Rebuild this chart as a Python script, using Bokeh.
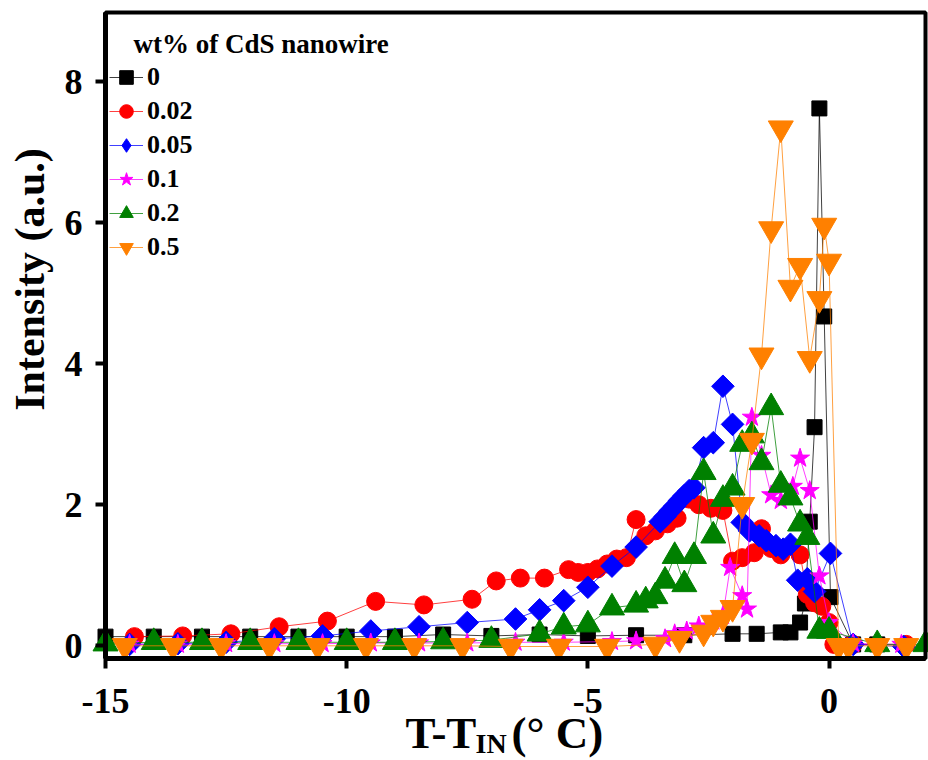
import math
from bokeh.plotting import figure
from bokeh.models import (Range1d, FixedTicker, Label, Legend, LegendItem, BoxAnnotation)
from bokeh.embed import file_html
from bokeh.resources import INLINE

FONT = "Liberation Serif"

# ---------------- data ----------------
labels = ["0", "0.02", "0.05", "0.1", "0.2", "0.5"]

x_0 = [-15, -14, -13, -12, -11, -10, -9, -8, -7, -6, -5, -4, -3, -2, -1.5, -1, -0.8,
       -0.6, -0.5, -0.4, -0.3, -0.2, -0.1, 0.03, 0.5, 1.0]
y_0 = [0.13, 0.13, 0.13, 0.13, 0.13, 0.13, 0.13, 0.16, 0.14, 0.16, 0.14, 0.15, 0.15,
       0.17, 0.17, 0.19, 0.19, 0.33, 0.6, 1.76, 3.1, 7.62, 4.67, 0.69, 0.02, 0.02]

x_002 = [-14.4, -13.4, -12.4, -11.4, -10.4, -9.4, -8.4, -7.4, -6.9, -6.4, -5.9, -5.4,
         -5.2, -5.0, -4.8, -4.6, -4.4, -4.2, -4.0, -3.8, -3.6, -3.35, -3.15, -2.9, -2.7,
         -2.45, -2.2, -2.0, -1.8, -1.55, -1.4, -1.2, -1.0, -0.6, -0.45, -0.3, -0.15, 0.0,
         0.1, 0.5, 1.6]
y_002 = [0.13, 0.14, 0.17, 0.27, 0.35, 0.63, 0.58, 0.66, 0.92, 0.96, 0.96, 1.08, 1.04,
         1.04, 1.09, 1.16, 1.23, 1.25, 1.79, 1.56, 1.63, 1.73, 1.81, 2.08, 2.0, 1.95,
         1.92, 1.2, 1.25, 1.32, 1.66, 1.38, 1.29, 1.29, 0.73, 0.61, 0.56, 0.33, 0.02,
         0.02, 0.02]

x_005 = [-14.5, -13.5, -12.5, -11.5, -10.5, -9.5, -8.5, -7.5, -6.5, -6.0, -5.5, -5.0,
         -4.5, -4.0, -3.5, -3.4, -3.3, -3.2, -3.1, -3.0, -2.9, -2.8, -2.6, -2.4, -2.2,
         -2.0, -1.8, -1.65, -1.45, -1.3, -1.1, -0.95, -0.8, -0.65, -0.45, -0.3, 0.03,
         0.5, 1.55]
y_005 = [0.02, 0.03, 0.05, 0.1, 0.14, 0.21, 0.27, 0.33, 0.38, 0.51, 0.64, 0.83, 1.13,
         1.4, 1.76, 1.83, 1.91, 1.98, 2.06, 2.13, 2.2, 2.24, 2.81, 2.88, 3.68, 3.14, 1.75,
         1.63, 1.56, 1.49, 1.42, 1.37, 1.44, 0.93, 0.95, 0.77, 1.31, 0.02, -0.01]

x_01 = [-14.5, -13.5, -12.5, -11.5, -10.5, -9.5, -8.5, -7.5, -6.5, -5.5, -4.5, -4.0,
        -3.4, -3.2, -2.95, -2.7, -2.4, -2.2, -2.05, -1.8, -1.7, -1.6, -1.4, -1.2, -1.0,
        -0.75, -0.6, -0.4, -0.2, 0.0, 0.5, 1.5]
y_01 = [0.02, 0.02, 0.03, 0.03, 0.03, 0.04, 0.04, 0.04, 0.05, 0.05, 0.06, 0.07, 0.1,
        0.17, 0.21, 0.28, 0.35, 0.43, 1.11, 0.71, 0.52, 3.24, 2.7, 2.14, 2.06, 2.26,
        2.66, 2.2, 0.99, 0.33, 0.03, 0.02]

x_02 = [-15, -14, -13, -12, -11, -10, -9, -8, -7, -6, -5.5, -5.0, -4.5, -4.0, -3.8,
        -3.6, -3.4, -3.2, -3.0, -2.8, -2.6, -2.4, -2.2, -2.0, -1.8, -1.6, -1.4, -1.2,
        -1.0, -0.8, -0.6, -0.45, -0.2, 0.0, 1.0, 2.0]
y_02 = [0.03, 0.05, 0.05, 0.05, 0.05, 0.05, 0.05, 0.06, 0.08, 0.17, 0.27, 0.3, 0.54,
        0.58, 0.64, 0.7, 0.92, 1.27, 0.87, 1.27, 2.46, 1.56, 2.08, 2.24, 2.86, 2.98, 2.6,
        3.38, 2.28, 2.1, 1.73, 1.54, 0.21, 0.21, 0.02, 0.02]

x_05 = [-14.6, -13.6, -12.6, -11.6, -10.6, -9.6, -8.6, -7.6, -6.6, -5.6, -4.6, -3.6,
        -3.1, -2.6, -2.4, -2.2, -2.0, -1.8, -1.6, -1.4, -1.2, -1.0, -0.8, -0.6, -0.4,
        -0.2, -0.1, 0.0, 0.2, 0.4, 1.0, 1.6]
y_05 = [0.0, 0.0, 0.0, 0.0, 0.0, 0.0, 0.0, 0.0, -0.01, -0.01, -0.01, 0.02, 0.1, 0.19,
        0.33, 0.4, 0.54, 2.0, 2.91, 4.12, 5.91, 7.34, 5.08, 5.39, 4.07, 4.92, 5.96, 5.45,
        0.0, 0.0, 0.0, 0.0]

x_ticks = [-15, -10, -5, 0]
y_ticks = [0, 2, 4, 6, 8]

series_x = [x_0, x_002, x_005, x_01, x_02, x_05]
series_y = [y_0, y_002, y_005, y_01, y_02, y_05]

colors = ["#000000", "#FF0000", "#0000FF", "#FF00FF", "#008000", "#FF8000"]
markers = ["square", "circle", "square", "star", "triangle", "inverted_triangle"]
legend_markers = ["square", "circle", "diamond", "star", "triangle", "inverted_triangle"]
sizes = [15, 18, 16, 20, 25, 25]
angles = [0, 0, math.pi / 4, 0, 0, 0]

# ---------------- layout ----------------
# axes box in data units and its place on the 928x760 canvas
X_BOX = (-15, 2)
Y_BOX = (-0.18, 8.98)
FL, FR, FT, FB = 105, 925, 12, 658
W, H = 928, 760
kx = (FR - FL) / (X_BOX[1] - X_BOX[0])
ky = (FB - FT) / (Y_BOX[1] - Y_BOX[0])
# the frame covers the whole canvas so that the outside texts are not clipped
X_RANGE = (X_BOX[0] - FL / kx, X_BOX[1] + (W - FR) / kx)
Y_RANGE = (Y_BOX[0] - (H - FB) / ky, Y_BOX[1] + FT / ky)


def sx(px):
    return X_RANGE[0] + px / kx


def sy(py):
    return Y_RANGE[1] - py / ky


p = figure(width=W, height=H, output_backend="svg", toolbar_location=None,
           x_range=Range1d(*X_RANGE), y_range=Range1d(*Y_RANGE), min_border=0)
p.min_border_left = 0
p.min_border_right = 0
p.min_border_top = 0
p.min_border_bottom = 0
p.grid.visible = False
p.background_fill_color = "white"
p.border_fill_color = "white"
p.outline_line_color = None

for ax in (p.xaxis[0], p.yaxis[0]):
    ax.axis_line_width = 5
    ax.axis_line_color = "black"
    ax.major_tick_line_width = 4
    ax.major_tick_line_color = "black"
    ax.major_tick_out = 10
    ax.major_tick_in = 0
    ax.minor_tick_out = 0
    ax.minor_tick_in = 0
    ax.major_label_text_font = FONT
    ax.major_label_text_font_style = "bold"
    ax.major_label_text_font_size = "36px"
    ax.major_label_text_color = "black"

xa = p.xaxis[0]
xa.ticker = FixedTicker(ticks=x_ticks)
xa.major_label_overrides = {t: str(t) for t in x_ticks}
xa.major_label_standoff = 20
xa.fixed_location = Y_BOX[0]
xa.bounds = X_BOX

ya = p.yaxis[0]
ya.ticker = FixedTicker(ticks=y_ticks)
ya.major_label_overrides = {t: str(t) for t in y_ticks}
ya.major_label_standoff = 13
ya.fixed_location = X_BOX[0]
ya.bounds = Y_BOX

# top and right sides of the axes box
p.add_layout(BoxAnnotation(left=X_BOX[0], right=X_BOX[1], bottom=Y_BOX[0], top=Y_BOX[1],
                           fill_alpha=0, line_color="black", line_width=4,
                           line_alpha=1, line_dash="solid"))

items = []
for xs, ys, c, m, lm, s, a, lab in zip(series_x, series_y, colors, markers, legend_markers,
                                        sizes, angles, labels):
    ln = p.line(xs, ys, line_color=c, line_width=1, line_alpha=0.75)
    sc = p.scatter(xs, ys, marker=m, size=s, angle=a, fill_color=c, line_color=c)
    if lm != m:
        # hidden twin of the series, only used to draw a diamond in the legend
        leg = p.scatter(xs, ys, marker=lm, size=s, fill_color=c, line_color=c,
                        visible=False)
        items.append(LegendItem(label=lab, renderers=[ln, leg]))
    else:
        items.append(LegendItem(label=lab, renderers=[ln, sc]))

legend = Legend(items=items, location=(109, H - 264), orientation="vertical",
                border_line_alpha=0, background_fill_alpha=0, padding=0, margin=0,
                glyph_width=34, glyph_height=34, label_height=34, spacing=0,
                label_standoff=4, label_text_font=FONT, label_text_font_style="bold",
                label_text_font_size="26px", label_text_color="black",
                inactive_fill_alpha=0)
p.add_layout(legend)

# legend title
p.add_layout(Label(x=sx(133), y=sy(43), text="wt% of CdS nanowire", text_font=FONT,
                   text_font_style="bold", text_font_size="27px", text_color="black",
                   text_baseline="middle", text_align="left"))

# y axis label
p.add_layout(Label(x=sx(29), y=sy(279), text="Intensity (a.u.)", angle=math.pi / 2,
                   text_font=FONT, text_font_style="bold", text_font_size="42px",
                   text_color="black", text_baseline="middle", text_align="center"))

# x axis label: T-T_IN (° C)
p.add_layout(Label(x=sx(405), y=sy(732), text="T-T", text_font=FONT,
                   text_font_style="bold", text_font_size="45px", text_color="black",
                   text_baseline="middle", text_align="left"))
p.add_layout(Label(x=sx(475), y=sy(743), text="IN", text_font=FONT,
                   text_font_style="bold", text_font_size="28px", text_color="black",
                   text_baseline="middle", text_align="left"))
p.add_layout(Label(x=sx(511), y=sy(732), text="(° C)", text_font=FONT,
                   text_font_style="bold", text_font_size="45px", text_color="black",
                   text_baseline="middle", text_align="left"))

open("out.html", "w").write(file_html(p, INLINE))
